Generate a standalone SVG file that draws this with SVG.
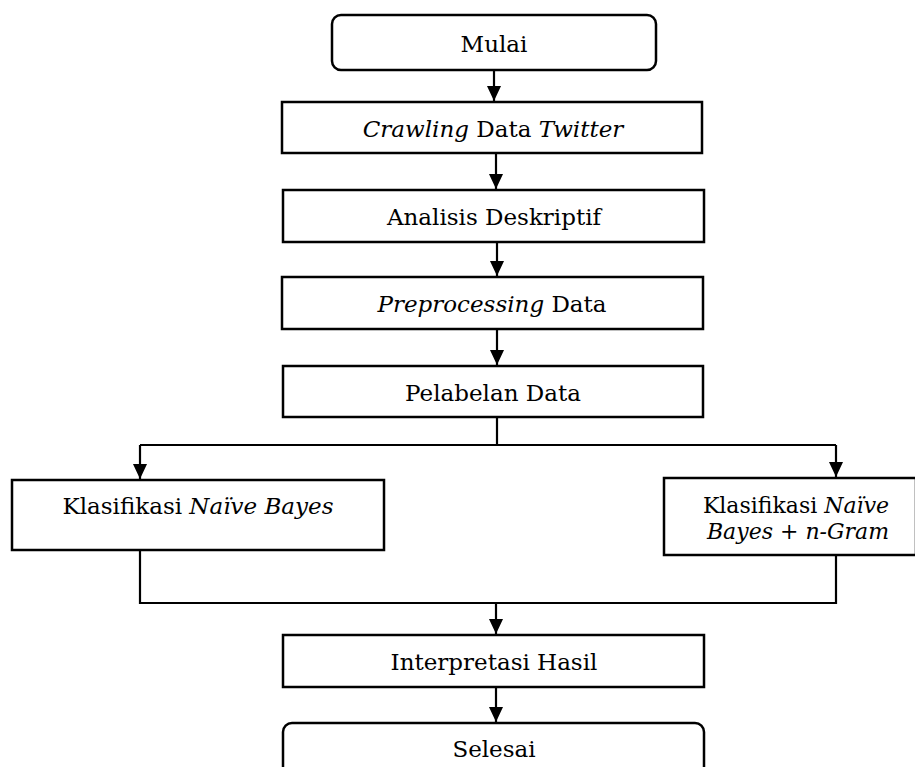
<svg xmlns="http://www.w3.org/2000/svg" width="915" height="767" viewBox="0 0 915 767">
<style>
  .box { fill: #fff; stroke: #000; stroke-width: 2.5; }
  .lbl { font-family: "DejaVu Serif", "Liberation Serif", serif; font-size: 23px; fill: #000; text-anchor: middle; }
  .sm { font-size: 22px; }
  .it { font-style: italic; }
  .ln { fill: none; stroke: #000; stroke-width: 2.2; }
</style>
<defs>
  <marker id="ah" markerUnits="userSpaceOnUse" markerWidth="18" markerHeight="18" viewBox="0 0 18 18" refX="15" refY="9" orient="auto">
    <path d="M0,2 L15,9 L0,16 Z" fill="#000"/>
  </marker>
</defs>
<rect width="915" height="767" fill="#fff"/>

<g id="connectors">
  <line class="ln" x1="494" y1="70" x2="494" y2="101" marker-end="url(#ah)"/>
  <line class="ln" x1="496" y1="153" x2="496" y2="189" marker-end="url(#ah)"/>
  <line class="ln" x1="497" y1="242" x2="497" y2="276" marker-end="url(#ah)"/>
  <line class="ln" x1="497" y1="329" x2="497" y2="365" marker-end="url(#ah)"/>
  <polyline class="ln" points="497,417 497,445 140,445"/>
  <line class="ln" x1="497" y1="445" x2="836" y2="445"/>
  <line class="ln" x1="140" y1="445" x2="140" y2="479" marker-end="url(#ah)"/>
  <line class="ln" x1="836" y1="445" x2="836" y2="477" marker-end="url(#ah)"/>
  <polyline class="ln" points="140,550 140,603 836,603 836,555"/>
  <line class="ln" x1="496" y1="603" x2="496" y2="634" marker-end="url(#ah)"/>
  <line class="ln" x1="496" y1="687" x2="496" y2="722" marker-end="url(#ah)"/>
</g>

<g id="mulai">
  <rect class="box" x="332" y="15" width="324" height="55" rx="9"/>
  <text class="lbl" x="494" y="52">Mulai</text>
</g>
<g id="crawling">
  <rect class="box" x="282" y="102" width="420" height="51"/>
  <text class="lbl" x="493" y="137"><tspan class="it">Crawling</tspan> Data <tspan class="it">Twitter</tspan></text>
</g>
<g id="analisis">
  <rect class="box" x="283" y="190" width="421" height="52"/>
  <text class="lbl" x="494" y="225">Analisis Deskriptif</text>
</g>
<g id="preprocessing">
  <rect class="box" x="282" y="277" width="421" height="52"/>
  <text class="lbl" x="492" y="312"><tspan class="it">Preprocessing</tspan> Data</text>
</g>
<g id="pelabelan">
  <rect class="box" x="283" y="366" width="420" height="51"/>
  <text class="lbl" x="493" y="401">Pelabelan Data</text>
</g>
<g id="nb">
  <rect class="box" x="12" y="480" width="372" height="70"/>
  <text class="lbl" x="198" y="514">Klasifikasi <tspan class="it">Naïve Bayes</tspan></text>
</g>
<g id="nbngram">
  <rect class="box" x="664" y="478" width="252" height="77"/>
  <text class="lbl sm" x="796" y="513">Klasifikasi <tspan class="it">Naïve</tspan></text>
  <text class="lbl sm" x="798" y="539"><tspan class="it">Bayes</tspan> + <tspan class="it">n-Gram</tspan></text>
</g>
<g id="interpretasi">
  <rect class="box" x="283" y="635" width="421" height="52"/>
  <text class="lbl" x="494" y="670">Interpretasi Hasil</text>
</g>
<g id="selesai">
  <rect class="box" x="283" y="723" width="421" height="55" rx="9"/>
  <text class="lbl" x="494" y="757">Selesai</text>
</g>
</svg>
